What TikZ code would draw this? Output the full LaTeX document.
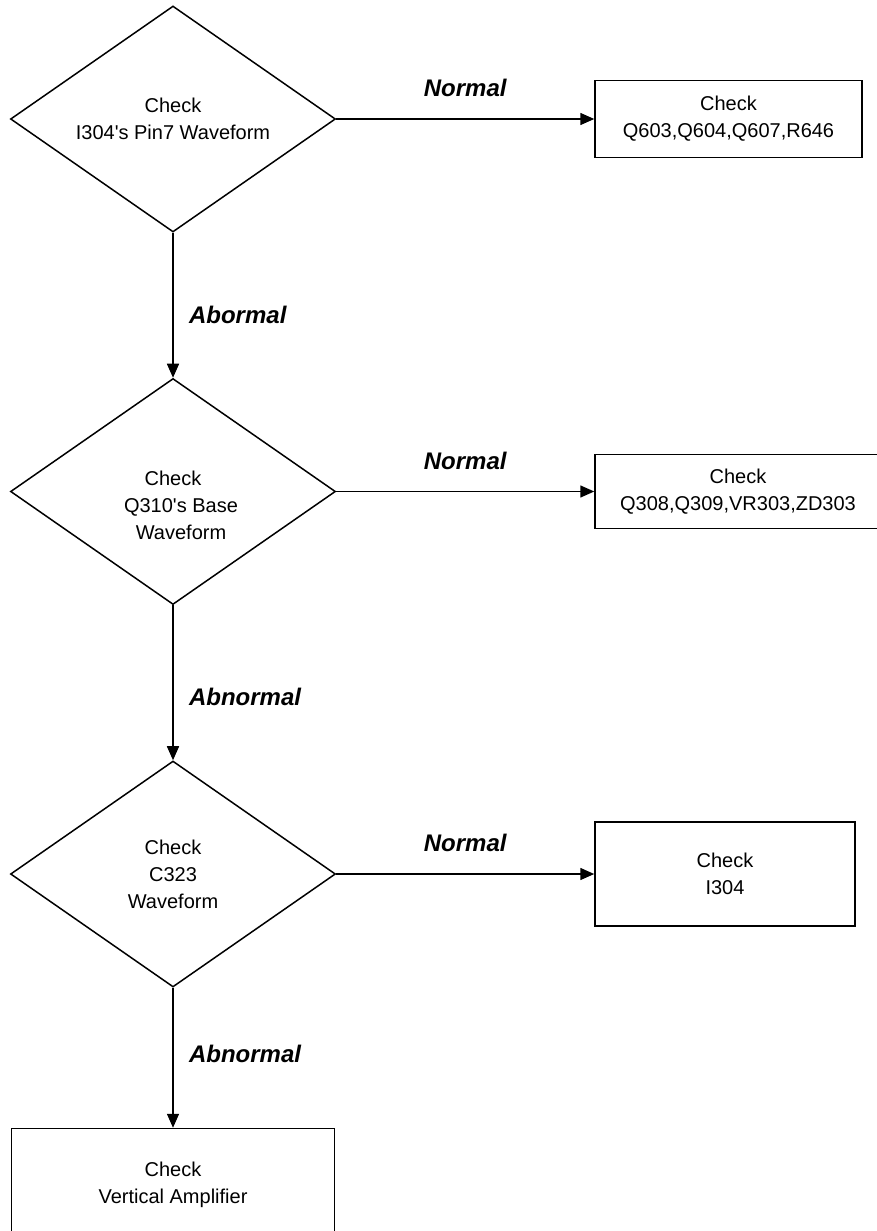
\documentclass[tikz,border=0pt]{standalone}
\usepackage{fontspec}
\setmainfont{Liberation Sans}[Ligatures=TeXOff]
\usetikzlibrary{arrows.meta}
\usetikzlibrary{shapes.geometric}
\usetikzlibrary{positioning}

\tikzset{
  decision/.style={diamond, draw, line width=1.5pt, aspect=1.44,
    minimum width=325pt, minimum height=226pt, inner sep=0pt,
    align=center, font=\fontsize{20}{27}\selectfont},
  action/.style={rectangle, draw, line width=1.5pt, inner sep=0pt,
    align=center, font=\fontsize{20}{27}\selectfont},
  outcome/.style={font=\fontsize{24}{28}\selectfont\bfseries\itshape},
  flow/.style={-{Triangle[length=14pt,width=12pt]}, line width=1.5pt},
}

\begin{document}
\begin{tikzpicture}[x=1pt,y=-1pt]
\useasboundingbox (0,0) rectangle (877,1231);

\node[decision] (pin7) at (173,119) {Check\\I304's Pin7 Waveform};
\node[decision, below=145pt of pin7] (base) {};
\node[align=center, font=\fontsize{20}{27}\selectfont] (basetxt) at ([yshift=-14pt]base.center)
  {Check\\\hspace*{16pt}Q310's Base\\\hspace*{16pt}Waveform};
\node[decision, below=155pt of base] (c323) {Check\\C323\\Waveform};

\node[action, minimum width=267pt, minimum height=77pt, right=258pt of pin7] (q603) {Check\\Q603,Q604,Q607,R646};
\node[action, minimum width=286pt, minimum height=74pt, right=258pt of base] (q308) {Check\\Q308,Q309,VR303,ZD303};
\node[action, minimum width=260pt, minimum height=104pt, right=258pt of c323] (i304) {Check\\I304};
\node[action, minimum width=323pt, minimum height=112pt, below=140pt of c323] (vamp) {Check\\Vertical Amplifier};

\draw[flow] (pin7) -- (q603) node[midway, above=18pt, outcome] {Normal};
\draw[flow] (base) -- (q308) node[midway, above=18pt, outcome] {Normal};
\draw[flow] (c323) -- (i304) node[midway, above=18pt, outcome] {Normal};

\draw[flow] (pin7) -- (base) node[pos=0.57, right=12pt, outcome] {Abormal};
\draw[flow] (base) -- (c323) node[pos=0.59, right=12pt, outcome] {Abnormal};
\draw[flow] (c323) -- (vamp) node[pos=0.47, right=12pt, outcome] {Abnormal};

\end{tikzpicture}
\end{document}
